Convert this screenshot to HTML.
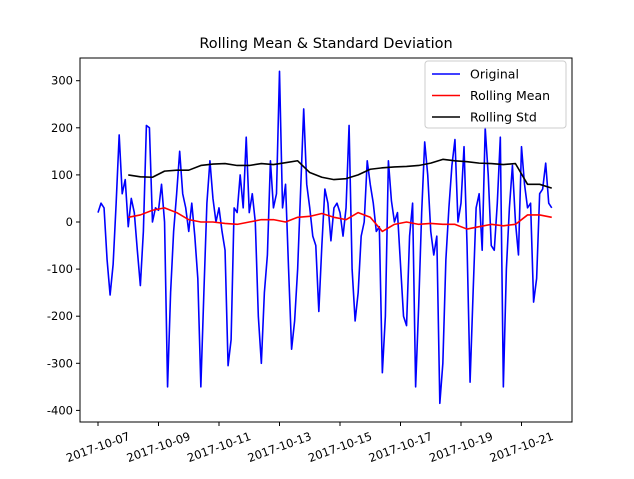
<!DOCTYPE html>
<html><head><meta charset="utf-8"><style>
body{margin:0;background:#fff;font-family:"Liberation Sans","DejaVu Sans",sans-serif}
svg text{font-family:"DejaVu Sans","Liberation Sans",sans-serif}
</style></head><body>
<svg id="c" width="634" height="474" xmlns="http://www.w3.org/2000/svg"></svg>
<script>
const yTicks=[-400,-300,-200,-100,0,100,200,300];
const xTickDays=[0,2,4,6,8,10,12,14];
const xTickLabels=["2017-10-07","2017-10-09","2017-10-11","2017-10-13","2017-10-15","2017-10-17","2017-10-19","2017-10-21"];
const stepDays=0.1;
const original=[20,40,30,-80,-155,-90,40,185,60,90,-10,50,20,-60,-135,-20,205,200,0,30,25,80,0,-350,-150,-20,60,150,60,30,-20,40,-30,-120,-350,-150,40,130,50,0,30,-20,-60,-305,-250,30,20,100,30,180,20,60,0,-200,-300,-150,-70,130,30,60,320,30,80,-100,-270,-210,-100,70,240,80,30,-30,-50,-190,-50,70,40,-40,30,40,20,-30,30,205,-100,-210,-150,-30,0,130,80,40,-20,-10,-320,-200,130,45,0,20,-90,-200,-220,-30,40,-350,-180,20,170,100,-20,-70,-30,-385,-300,-80,30,120,175,0,40,160,-50,-340,-150,30,60,-60,200,100,-50,-60,40,180,-350,-100,30,120,0,-70,160,80,30,40,-170,-120,60,70,125,40,30];
const rollIdx=[10,14,18,22,26,30,34,38,42,46,50,54,58,62,66,70,74,78,82,86,90,94,98,102,106,110,114,118,122,126,130,134,138,142,146,150];
const rollMean=[10,15,25,30,20,5,0,0,-3,-5,0,5,5,0,10,12,18,10,5,20,10,-20,-5,0,-5,-3,-5,-5,-15,-10,-5,-8,-5,15,15,10];
const rollStd=[100,96,95,108,110,110,120,123,124,120,120,124,122,126,130,105,95,90,92,100,112,115,117,118,120,125,133,130,128,125,124,122,124,80,80,72];

const svg=document.getElementById('c');const NS='http://www.w3.org/2000/svg';
const L=80,R=572,T=58,B=422;
const X=d=>98+d*30.25, Y=v=>222-v*0.471;
function mk(t,a,p){const e=document.createElementNS(NS,t);for(const k in a)e.setAttribute(k,a[k]);(p||svg).appendChild(e);return e;}
const bg=mk('rect',{x:L,y:T,width:R-L,height:B-T,fill:'#fff',stroke:'none'});


function line(pts,color,name){const p=mk('polyline',{points:pts.map(q=>q.join(',')).join(' '),fill:'none',stroke:color,'stroke-width':1.6,'stroke-linejoin':'round'});

}
line(original.map((v,i)=>[X(i*stepDays),Y(v)]),'#0000ff','original-line');
line(rollMean.map((v,i)=>[X(rollIdx[i]*stepDays),Y(v)]),'#ff0000','rolling-mean-line');
line(rollStd.map((v,i)=>[X(rollIdx[i]*stepDays),Y(v)]),'#000000','rolling-std-line');
const fr=mk('rect',{x:L,y:T,width:R-L,height:B-T,fill:'none',stroke:'#000','stroke-width':1});


yTicks.forEach(v=>{const y=Y(v);mk('line',{x1:L-4,x2:L,y1:y,y2:y,stroke:'#000'});
const t=mk('text',{x:L-7,y:y+4,'text-anchor':'end','font-size':11.5});t.textContent=v;

});
xTickDays.forEach((d,i)=>{const x=X(d);mk('line',{x1:x,x2:x,y1:B,y2:B+4,stroke:'#000'});
const cy=B+25;
const t=mk('text',{x:x,y:cy+4,'text-anchor':'middle','font-size':11.5,transform:`rotate(-20 ${x} ${cy})`});t.textContent=xTickLabels[i];

});
const ti=mk('text',{x:326,y:48,'text-anchor':'middle','font-size':14.5});ti.textContent='Rolling Mean & Standard Deviation';


const lg=mk('g',{});


mk('rect',{x:425,y:61,width:141,height:67,rx:3,fill:'#fff','fill-opacity':0.8,stroke:'#ccc'},lg);
[['Original','#0000ff'],['Rolling Mean','#ff0000'],['Rolling Std','#000']].forEach((e,i)=>{const y=74+i*21.5;
mk('line',{x1:432,x2:460,y1:y,y2:y,stroke:e[1],'stroke-width':1.6},lg);
const t=mk('text',{x:470,y:y+4.5,'font-size':12.5},lg);t.textContent=e[0];

});
</script>
</body></html>
